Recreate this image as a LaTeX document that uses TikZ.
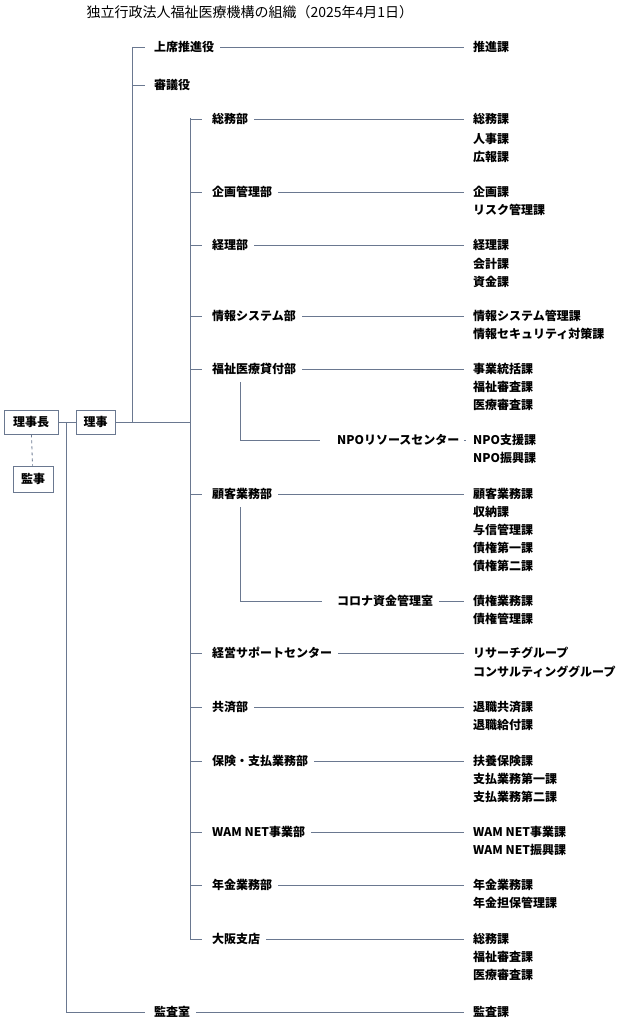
\documentclass[tikz,border=0pt]{standalone}
\usepackage{fontspec}
\setmainfont{Noto Sans CJK JP}
\definecolor{lc}{HTML}{6A7890}
\begin{document}
\begin{tikzpicture}[x=1pt,y=-1pt,
  ln/.style={draw=lc, line width=0.8pt},
  txt/.style={anchor=west, inner sep=1pt, font=\fontsize{12}{13}\selectfont\bfseries},
  box/.style={draw=lc, line width=0.8pt, fill=white, minimum height=24pt, inner sep=3pt, font=\fontsize{12}{13}\selectfont\bfseries}]
\useasboundingbox (0,0) rectangle (620,1024);
\node[anchor=west, font=\fontsize{14}{15}\selectfont] (title) at (83,12) {独立行政法人福祉医療機構の組織（2025年4月1日）};
% boxes
\node[box, minimum width=54pt] (chair) at (31,422) {理事長};
\node[box, minimum width=39pt] (dir) at (95.5,422) {理事};
\node[box, minimum width=40pt, minimum height=26pt] (aud) at (33,479) {監事};
\draw[ln, dashed] (chair) -- (aud);
\draw[ln] (chair) -- (dir);
\coordinate (j) at (66,422);
\coordinate (jb) at (66,1012);
\draw[ln] (j) -- (jb);
\coordinate (b1t) at (132,47);
\coordinate (b1b) at (132,422);
\draw[ln] (dir.east) -- (190,422);
\draw[ln] (b1t) -- (b1b);
\coordinate (b2t) at (190,118);
\coordinate (b2b) at (190,939);
\draw[ln] (b2t) -- (b2b);
% level 1
\node[txt] (sj) at (153,47) {上席推進役};
\node[txt] (sg) at (153,85) {審議役};
\node[txt] (ks) at (153,1012) {監査室};
\draw[ln] (b1t) -- ([xshift=-8pt]sj.west);
\draw[ln] (132,85) -- ([xshift=-8pt]sg.west);
\draw[ln] (jb) -- ([xshift=-8pt]ks.west);
% departments
\foreach \n/\y/\t in {d1/119/総務部, d2/192/企画管理部, d3/245/経理部, d4/316/情報システム部, d5/369/福祉医療貸付部, d6/494/顧客業務部, d7/653/経営サポートセンター, d8/707/共済部, d9/761/保険・支払業務部, d10/832/WAM NET事業部, d11/885/年金業務部, d12/939/大阪支店}{
  \node[txt] (\n) at (211,\y) {\t};
}
\foreach \n/\y/\t in {d1/119/総務部, d2/192/企画管理部, d3/245/経理部, d4/316/情報システム部, d5/369/福祉医療貸付部, d6/494/顧客業務部, d7/653/経営サポートセンター, d8/707/共済部, d9/761/保険・支払業務部, d10/832/WAM NET事業部, d11/885/年金業務部, d12/939/大阪支店}{
  \draw[ln] (190,\y) -- ([xshift=-9pt]\n.west);
}
\node[txt] (npo) at (336,440) {NPOリソースセンター};
\node[txt] (cor) at (336,601) {コロナ資金管理室};
\draw[ln] (240,382) |- ([xshift=-16pt]npo.west);
\draw[ln] (240,507) |- ([xshift=-14pt]cor.west);
% sections
\foreach \n/\y/\t in {s0/47/推進課, s1/119/総務課, s1b/139/人事課, s1c/157/広報課, s2/192/企画課, s2b/210/リスク管理課, s3/245/経理課, s3b/264/会計課, s3c/282/資金課, s4/316/情報システム管理課, s4b/334/情報セキュリティ対策課, s5/369/事業統括課, s5b/387/福祉審査課, s5c/405/医療審査課, s5d/440/NPO支援課, s5e/458/NPO振興課, s6/494/顧客業務課, s6b/512/収納課, s6c/530/与信管理課, s6d/548/債権第一課, s6e/566/債権第二課, s6f/601/債権業務課, s6g/619/債権管理課, s7/653/リサーチグループ, s7b/672/コンサルティンググループ, s8/707/退職共済課, s8b/725/退職給付課, s9/761/扶養保険課, s9b/779/支払業務第一課, s9c/797/支払業務第二課, s10/832/WAM NET事業課, s10b/850/WAM NET振興課, s11/885/年金業務課, s11b/903/年金担保管理課, s12/939/総務課, s12b/957/福祉審査課, s12c/975/医療審査課, s13/1012/監査課}{
  \node[txt] (\n) at (472,\y) {\t};
}
\foreach \a/\b in {sj/s0, d1/s1, d2/s2, d3/s3, d4/s4, d5/s5, npo/s5d, d6/s6, cor/s6f, d7/s7, d8/s8, d9/s9, d10/s10, d11/s11, d12/s12, ks/s13}{
  \draw[ln, shorten <=5pt, shorten >=8pt] (\a.east) -- (\a.east -| \b.west);
}
\end{tikzpicture}
\end{document}
